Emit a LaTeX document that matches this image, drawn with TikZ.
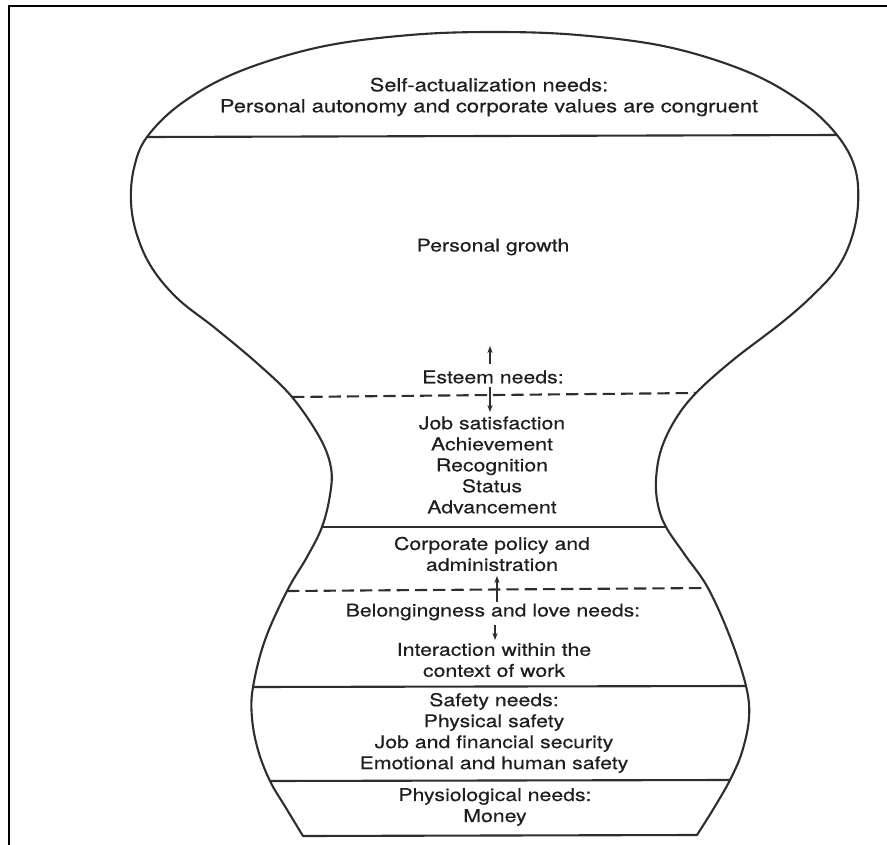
\documentclass[tikz,border=0pt]{standalone}
\usepackage{fontspec}
\setmainfont[FakeStretch=1.21, FakeBold=0.5]{TeX Gyre Heros}
\usetikzlibrary{arrows.meta, positioning}
\colorlet{VaseLine}{black!82}
\colorlet{InkText}{black!88}
\colorlet{FrameLine}{black}

\begin{document}
\begin{tikzpicture}[
    x=0.02cm, y=-0.02cm,
    vase/.style={draw=VaseLine, line width=1.2pt, line join=round},
    divider/.style={draw=VaseLine, line width=1.2pt},
    dashdiv/.style={draw=VaseLine, line width=1.2pt,
                    dash pattern=on 7pt off 3.4pt},
    lvl/.style={font=\fontsize{10}{11.95}\selectfont, text=InkText,
                align=center, inner sep=0pt},
    toplvl/.style={lvl, font=\fontsize{10.3}{11.95}\selectfont},
    arr/.style={-{Stealth[length=4pt, width=3pt]}, line width=0.8pt, VaseLine},
    frame/.style={draw=FrameLine, line width=1.7pt}
]
\useasboundingbox (0,0) rectangle (887,845);

% ===================================================================
% FRAME
% ===================================================================
\coordinate (frBL) at (9,845);
\coordinate (frTL) at (9,6);
\coordinate (frTR) at (887,6);
\draw[frame] (frBL) -- (frTL) -- (frTR);

% ===================================================================
% DIVIDER END POINTS (on the outline)
% ===================================================================
\coordinate (s1L) at (147,137);  \coordinate (s1R) at (837,135);
\coordinate (d1L) at (292,397);  \coordinate (d1R) at (696,393);
\coordinate (s2L) at (322,527);  \coordinate (s2R) at (666,527);
\coordinate (d2L) at (287,591);  \coordinate (d2R) at (708,588);
\coordinate (s3L) at (253,687);  \coordinate (s3R) at (746,686);
\coordinate (s4L) at (270,781);  \coordinate (s4R) at (730,780);
\coordinate (botL) at (303,836); \coordinate (botR) at (697,835);

% ===================================================================
% VASE OUTLINE
% ===================================================================
\draw[vase] plot[smooth, tension=0.6] coordinates {
    (botL) (286,808) (s4L) (258,750) (252,718) (s3L) (265,640) (d2L)
    (307,557) (s2L) (330,495) (331,468) (320,438) (d1L) (258,364)
    (215,328) (178,299) (152,268) (137,235) (131,202) (134,168) (s1L)
    (182,103) (238,72) (320,47) (410,35) (494,32) (578,35) (668,47)
    (748,72) (803,103) (s1R) (855,168) (858,205) (851,240) (836,270)
    (810,298) (780,324) (733,360) (d1R) (675,420) (661,450) (656,480)
    (658,505) (s2R) (685,555) (d2R) (730,637) (s3R) (749,718)
    (742,752) (s4R) (714,808) (botR)} -- cycle;

% dividers
\draw[divider] (s1L) -- (s1R);
\draw[dashdiv] (d1L) -- (d1R);
\draw[divider] (s2L) -- (s2R);
\draw[dashdiv] (d2L) -- (d2R);
\draw[divider] (s3L) -- (s3R);
\draw[divider] (s4L) -- (s4R);

% ===================================================================
% LEVELS
% ===================================================================
\node[toplvl] (selfact) at (489,97)
    {Self-actualization needs:\\
     Personal autonomy and corporate values are congruent};
\node[lvl] (growth) at (493,247) {Personal growth};
\node[lvl] (esteem) at (493,377) {Esteem needs:};
\node[lvl] (motiv) at (492,465)
    {Job satisfaction\\Achievement\\Recognition\\Status\\Advancement};
\node[lvl] (policy) at (492,554) {Corporate policy and\\administration};
\node[lvl] (belong) at (493,612) {Belongingness and love needs:};
\node[lvl] (social) at (494,660) {Interaction within the\\context of work};
\node[lvl] (safety) at (494,733)
    {Safety needs:\\Physical safety\\Job and financial security\\
     Emotional and human safety};
\node[lvl] (physio) at (495,807) {Physiological needs:\\Money};

% ===================================================================
% ARROWS
% ===================================================================
\coordinate (upA) at (490,364);  \coordinate (upB) at (490,346);
\coordinate (dnA) at (490,387);  \coordinate (dnB) at (490,412);
\coordinate (crA) at (497,602);  \coordinate (crB) at (497,576);
\coordinate (blA) at (495,625);  \coordinate (blB) at (495,640);
\draw[arr] (upA) -- (upB);
\draw[arr] (dnA) -- (dnB);
\draw[arr] (crA) -- (crB);
\draw[arr] (blA) -- (blB);

\end{tikzpicture}
\end{document}
